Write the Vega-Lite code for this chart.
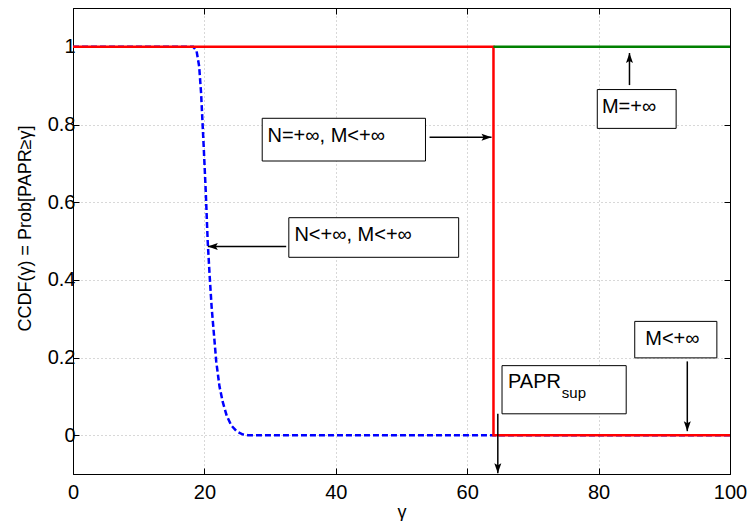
{
  "$schema": "https://vega.github.io/schema/vega-lite/v6.json",
  "width": 657,
  "height": 466,
  "autosize": "none",
  "padding": {"left": 73, "top": 8, "right": 20, "bottom": 47},
  "background": "white",
  "config": {
    "font": "Liberation Sans",
    "view": {"stroke": "black", "strokeWidth": 1},
    "axis": {
      "domainColor": "black",
      "domainWidth": 1,
      "tickColor": "black",
      "tickWidth": 1,
      "tickSize": -6,
      "labelColor": "black",
      "titleColor": "black",
      "labelFont": "Liberation Sans",
      "titleFont": "Liberation Sans",
      "labelFontSize": 20,
      "titleFontSize": 18,
      "titleFontWeight": "normal",
      "gridColor": "#b0b0b0",
      "gridDash": [1, 3],
      "gridOpacity": 1,
      "gridWidth": 1
    }
  },
  "datasets": {
    "curves": [
      {"series": "blue", "i": 0, "x": 0, "y": 1},
      {"series": "blue", "i": 1, "x": 18.3, "y": 1},
      {"series": "blue", "i": 2, "x": 18.8, "y": 0.99},
      {"series": "blue", "i": 3, "x": 19.2, "y": 0.95},
      {"series": "blue", "i": 4, "x": 19.5, "y": 0.88},
      {"series": "blue", "i": 5, "x": 19.9, "y": 0.74},
      {"series": "blue", "i": 6, "x": 20.2, "y": 0.63},
      {"series": "blue", "i": 7, "x": 20.5, "y": 0.5},
      {"series": "blue", "i": 8, "x": 20.8, "y": 0.41},
      {"series": "blue", "i": 9, "x": 21.1, "y": 0.33},
      {"series": "blue", "i": 10, "x": 21.5, "y": 0.25},
      {"series": "blue", "i": 11, "x": 21.8, "y": 0.19},
      {"series": "blue", "i": 12, "x": 22.3, "y": 0.125},
      {"series": "blue", "i": 13, "x": 22.8, "y": 0.085},
      {"series": "blue", "i": 14, "x": 23.4, "y": 0.05},
      {"series": "blue", "i": 15, "x": 24.1, "y": 0.025},
      {"series": "blue", "i": 16, "x": 24.9, "y": 0.01},
      {"series": "blue", "i": 17, "x": 25.8, "y": 0.002},
      {"series": "blue", "i": 18, "x": 26.6, "y": 0},
      {"series": "blue", "i": 19, "x": 100, "y": 0},
      {"series": "red", "i": 0, "x": 0, "y": 1},
      {"series": "red", "i": 1, "x": 64, "y": 1},
      {"series": "red", "i": 2, "x": 64, "y": 0},
      {"series": "red", "i": 3, "x": 100, "y": 0},
      {"series": "green", "i": 0, "x": 64, "y": 1},
      {"series": "green", "i": 1, "x": 100, "y": 1}
    ],
    "boxes": [
      {"x": 28.8, "x2": 53.65, "y": 0.706, "y2": 0.816},
      {"x": 32.85, "x2": 58.7, "y": 0.458, "y2": 0.56},
      {"x": 79.8, "x2": 91.8, "y": 0.79, "y2": 0.89},
      {"x": 85.5, "x2": 98.0, "y": 0.199, "y2": 0.293},
      {"x": 65.3, "x2": 84.2, "y": 0.055, "y2": 0.179}
    ],
    "labels": [
      {"x": 29.6, "y": 0.756, "text": "N=+∞, M<+∞"},
      {"x": 33.7, "y": 0.5005, "text": "N<+∞, M<+∞"},
      {"x": 80.5, "y": 0.83, "text": "M=+∞"},
      {"x": 87.1, "y": 0.233, "text": "M<+∞"},
      {"x": 66.2, "y": 0.122, "text": "PAPR"}
    ],
    "subs": [
      {"x": 74.4, "y": 0.096, "text": "sup"}
    ],
    "arrows": [
      {"x": 54.27, "y": 0.767, "x2": 63.7, "y2": 0.767, "dir": "right"},
      {"x": 32.45, "y": 0.486, "x2": 20.52, "y2": 0.486, "dir": "left"},
      {"x": 84.7, "y": 0.9015, "x2": 84.7, "y2": 0.984, "dir": "up"},
      {"x": 93.5, "y": 0.19, "x2": 93.5, "y2": 0.0103, "dir": "down"},
      {"x": 64.66, "y": 0.055, "x2": 64.66, "y2": -0.098, "dir": "down"}
    ]
  },
  "layer": [
    {
      "data": {"name": "curves"},
      "transform": [{"filter": "datum.series === 'blue'"}],
      "mark": {"type": "line", "color": "#0000ff", "strokeWidth": 2.5, "strokeDash": [6, 3]},
      "encoding": {
        "x": {"field": "x", "type": "quantitative",
          "scale": {"domain": [0, 100], "nice": false, "zero": false},
          "axis": {"values": [0, 20, 40, 60, 80, 100], "grid": true, "title": "γ",
            "labelFlush": false, "labelPadding": 14, "labelBaseline": "top",
            "titleY": 43, "titleBaseline": "alphabetic", "titleAnchor": "middle"}},
        "y": {"field": "y", "type": "quantitative",
          "scale": {"domain": [-0.1, 1.1], "nice": false, "zero": false},
          "axis": {"values": [0, 0.2, 0.4, 0.6, 0.8, 1], "format": "~g", "grid": true,
            "title": "CCDF(γ) = Prob[PAPR≥γ]", "labelPadding": 4,
            "titleX": -43, "titleY": 220, "titleAngle": -90, "titleBaseline": "alphabetic", "titleAlign": "center"}},
        "order": {"field": "i", "type": "quantitative"}
      }
    },
    {
      "data": {"name": "curves"},
      "transform": [{"filter": "datum.series === 'red'"}],
      "mark": {"type": "line", "color": "#ff0000", "strokeWidth": 2.5},
      "encoding": {
        "x": {"field": "x", "type": "quantitative", "scale": {"domain": [0, 100], "nice": false, "zero": false}, "axis": null},
        "y": {"field": "y", "type": "quantitative", "scale": {"domain": [-0.1, 1.1], "nice": false, "zero": false}, "axis": null},
        "order": {"field": "i", "type": "quantitative"}
      }
    },
    {
      "data": {"name": "curves"},
      "transform": [{"filter": "datum.series === 'green'"}],
      "mark": {"type": "line", "color": "#008000", "strokeWidth": 2.5},
      "encoding": {
        "x": {"field": "x", "type": "quantitative", "scale": {"domain": [0, 100], "nice": false, "zero": false},
          "axis": {"orient": "top", "values": [0, 20, 40, 60, 80, 100], "labels": false, "grid": false, "title": null}},
        "y": {"field": "y", "type": "quantitative", "scale": {"domain": [-0.1, 1.1], "nice": false, "zero": false},
          "axis": {"orient": "right", "values": [0, 0.2, 0.4, 0.6, 0.8, 1], "labels": false, "grid": false, "title": null}},
        "order": {"field": "i", "type": "quantitative"}
      }
    },
    {
      "data": {"name": "boxes"},
      "mark": {"type": "rect", "fill": "white", "stroke": "black", "strokeWidth": 1},
      "encoding": {
        "x": {"field": "x", "type": "quantitative", "axis": null},
        "x2": {"field": "x2"},
        "y": {"field": "y", "type": "quantitative", "axis": null},
        "y2": {"field": "y2"}
      }
    },
    {
      "data": {"name": "labels"},
      "mark": {"type": "text", "align": "left", "baseline": "alphabetic", "fontSize": 20, "color": "black", "font": "Liberation Sans"},
      "encoding": {
        "x": {"field": "x", "type": "quantitative", "axis": null},
        "y": {"field": "y", "type": "quantitative", "axis": null},
        "text": {"field": "text"}
      }
    },
    {
      "data": {"name": "subs"},
      "mark": {"type": "text", "align": "left", "baseline": "alphabetic", "fontSize": 15, "color": "black", "font": "Liberation Sans"},
      "encoding": {
        "x": {"field": "x", "type": "quantitative", "axis": null},
        "y": {"field": "y", "type": "quantitative", "axis": null},
        "text": {"field": "text"}
      }
    },
    {
      "data": {"name": "arrows"},
      "mark": {"type": "rule", "color": "black", "strokeWidth": 1.5},
      "encoding": {
        "x": {"field": "x", "type": "quantitative", "axis": null},
        "y": {"field": "y", "type": "quantitative", "axis": null},
        "x2": {"field": "x2"},
        "y2": {"field": "y2"}
      }
    },
    {
      "data": {"name": "arrows"},
      "transform": [{"filter": "datum.dir === 'right'"}],
      "mark": {"type": "point", "shape": "M0,0L-2,-0.7L-1.6,0L-2,0.7Z", "angle": 0, "filled": true, "color": "black", "opacity": 1, "size": 100, "strokeWidth": 0},
      "encoding": {
        "x": {"field": "x2", "type": "quantitative", "axis": null},
        "y": {"field": "y2", "type": "quantitative", "axis": null}
      }
    },
    {
      "data": {"name": "arrows"},
      "transform": [{"filter": "datum.dir === 'left'"}],
      "mark": {"type": "point", "shape": "M0,0L-2,-0.7L-1.6,0L-2,0.7Z", "angle": 180, "filled": true, "color": "black", "opacity": 1, "size": 100, "strokeWidth": 0},
      "encoding": {
        "x": {"field": "x2", "type": "quantitative", "axis": null},
        "y": {"field": "y2", "type": "quantitative", "axis": null}
      }
    },
    {
      "data": {"name": "arrows"},
      "transform": [{"filter": "datum.dir === 'up'"}],
      "mark": {"type": "point", "shape": "M0,0L-2,-0.7L-1.6,0L-2,0.7Z", "angle": 270, "filled": true, "color": "black", "opacity": 1, "size": 100, "strokeWidth": 0},
      "encoding": {
        "x": {"field": "x2", "type": "quantitative", "axis": null},
        "y": {"field": "y2", "type": "quantitative", "axis": null}
      }
    },
    {
      "data": {"name": "arrows"},
      "transform": [{"filter": "datum.dir === 'down'"}],
      "mark": {"type": "point", "shape": "M0,0L-2,-0.7L-1.6,0L-2,0.7Z", "angle": 90, "filled": true, "color": "black", "opacity": 1, "size": 100, "strokeWidth": 0},
      "encoding": {
        "x": {"field": "x2", "type": "quantitative", "axis": null},
        "y": {"field": "y2", "type": "quantitative", "axis": null}
      }
    }
  ],
  "resolve": {"axis": {"x": "independent", "y": "independent"}}
}
